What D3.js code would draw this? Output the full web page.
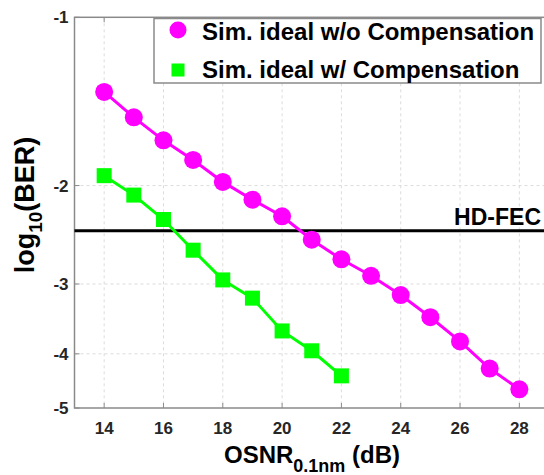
<!DOCTYPE html>
<html>
<head>
<meta charset="utf-8">
<script src="https://cdn.jsdelivr.net/npm/d3@7"></script>
<style>
body { margin: 0; background: #fff; }
text { font-family: "Liberation Sans", Arial, sans-serif; font-weight: bold; }
</style>
</head>
<body>
<svg width="544" height="475"></svg>
<script>
// data: log10(BER) vs OSNR
var osnrNoComp = [14, 15, 16, 17, 18, 19, 20, 21, 22, 23, 24, 25, 26, 27, 28];
var berNoComp = [-1.36, -1.51, -1.66, -1.80, -1.97, -2.12, -2.27, -2.50, -2.71, -2.90, -3.14, -3.44, -3.80, -4.25, -4.63];
var osnrComp = [14, 15, 16, 17, 18, 19, 20, 21, 22];
var berComp = [-1.92, -2.08, -2.30, -2.61, -2.95, -3.18, -3.64, -3.95, -4.38];
var xTicks = [14, 16, 18, 20, 22, 24, 26, 28];
var yTicks = [-1, -2, -3, -4, -5];
var hdFec = -2.41;
var legendLabels = ["Sim. ideal w/o Compensation", "Sim. ideal w/ Compensation"];

var magenta = "#ff00ff", green = "#00ff00";

var svg = d3.select("svg");
var pLeft = 74.5, pTop = 17.3, pRight = 549, pBottom = 408;

var xScale = d3.scaleLinear().domain([13, 29]).range([pLeft, pRight]);
// axis is log scale on -log10(BER)
var yLog = d3.scaleLog().domain([1, 5]).range([pTop, pBottom]);
var yScale = function(v) { return yLog(-v); };

// grid
svg.append("g").selectAll("line")
    .data(xTicks).enter().append("line")
    .attr("x1", function(d) { return xScale(d); })
    .attr("x2", function(d) { return xScale(d); })
    .attr("y1", pTop).attr("y2", pBottom)
    .style("stroke", "#dcdcdc").style("stroke-dasharray", "3,3").style("stroke-width", 1);
svg.append("g").selectAll("line")
    .data(yTicks.slice(1, 4)).enter().append("line")
    .attr("x1", pLeft).attr("x2", pRight)
    .attr("y1", function(d) { return yScale(d); })
    .attr("y2", function(d) { return yScale(d); })
    .style("stroke", "#dcdcdc").style("stroke-dasharray", "3,3").style("stroke-width", 1);

// frame
svg.append("rect")
    .attr("x", pLeft).attr("y", pTop)
    .attr("width", pRight - pLeft).attr("height", pBottom - pTop)
    .style("fill", "none").style("stroke", "#8a8a8a").style("stroke-width", 1.5);

// ticks inward
xTicks.forEach(function(t) {
    svg.append("line").attr("x1", xScale(t)).attr("x2", xScale(t))
        .attr("y1", pBottom).attr("y2", pBottom - 5).style("stroke", "#8a8a8a");
    svg.append("line").attr("x1", xScale(t)).attr("x2", xScale(t))
        .attr("y1", pTop).attr("y2", pTop + 5).style("stroke", "#8a8a8a");
});
yTicks.forEach(function(t) {
    svg.append("line").attr("x1", pLeft).attr("x2", pLeft + 5)
        .attr("y1", yScale(t)).attr("y2", yScale(t)).style("stroke", "#8a8a8a");
});

// tick labels
svg.append("g").selectAll("text")
    .data(xTicks).enter().append("text")
    .attr("x", function(d) { return xScale(d); })
    .attr("y", pBottom + 26)
    .attr("text-anchor", "middle")
    .style("font-size", "17px").style("fill", "#262626")
    .text(function(d) { return d; });
svg.append("g").selectAll("text")
    .data(yTicks).enter().append("text")
    .attr("x", pLeft - 6)
    .attr("y", function(d) { return yScale(d) + 6; })
    .attr("text-anchor", "end")
    .style("font-size", "17px").style("fill", "#262626")
    .text(function(d) { return d; });

// axis labels
var xl = svg.append("text")
    .attr("x", 312).attr("y", 463)
    .attr("text-anchor", "middle")
    .style("font-size", "24px").style("fill", "#000");
xl.append("tspan").text("OSNR");
xl.append("tspan").attr("dy", 9).style("font-size", "18px").text("0.1nm");
xl.append("tspan").attr("dy", -9).text(" (dB)");

var yl = svg.append("text")
    .attr("transform", "translate(34,205)rotate(-90)")
    .attr("text-anchor", "middle")
    .style("font-size", "27px").style("fill", "#000");
yl.append("tspan").text("log");
yl.append("tspan").attr("dy", 8).style("font-size", "19px").text("10");
yl.append("tspan").attr("dy", -8).text("(BER)");

// HD-FEC threshold
svg.append("line")
    .attr("x1", pLeft).attr("x2", pRight)
    .attr("y1", yScale(hdFec)).attr("y2", yScale(hdFec))
    .style("stroke", "#000").style("stroke-width", 3);
svg.append("text")
    .attr("x", 541).attr("y", yScale(hdFec) - 6)
    .attr("text-anchor", "end")
    .style("font-size", "23px").style("fill", "#000")
    .text("HD-FEC");

var line = d3.line()
    .x(function(d) { return xScale(d[0]); })
    .y(function(d) { return yScale(d[1]); });

var dNo = d3.zip(osnrNoComp, berNoComp);
var dYes = d3.zip(osnrComp, berComp);

svg.append("path").datum(dNo).attr("d", line)
    .style("fill", "none").style("stroke", magenta).style("stroke-width", 3);
svg.append("g").selectAll("circle")
    .data(dNo).enter().append("circle")
    .attr("cx", function(d) { return xScale(d[0]); })
    .attr("cy", function(d) { return yScale(d[1]); })
    .attr("r", 9)
    .style("fill", magenta);

svg.append("path").datum(dYes).attr("d", line)
    .style("fill", "none").style("stroke", green).style("stroke-width", 3);
svg.append("g").selectAll("rect")
    .data(dYes).enter().append("rect")
    .attr("x", function(d) { return xScale(d[0]) - 7.5; })
    .attr("y", function(d) { return yScale(d[1]) - 7.5; })
    .attr("width", 15).attr("height", 15)
    .style("fill", green);

// legend
var lg = svg.append("g");
lg.append("rect")
    .attr("x", 154).attr("y", 18.5).attr("width", 387).attr("height", 64.5)
    .style("fill", "#fff").style("stroke", "#8a8a8a").style("stroke-width", 1.5);
lg.append("circle").attr("cx", 178).attr("cy", 30).attr("r", 8.5).style("fill", magenta);
lg.append("rect").attr("x", 171.5).attr("y", 63.5).attr("width", 13).attr("height", 13).style("fill", green);
lg.selectAll("text")
    .data(legendLabels).enter().append("text")
    .attr("x", 202)
    .attr("y", function(d, i) { return 40 + i * 38; })
    .style("font-size", "24px").style("fill", "#000")
    .text(function(d) { return d; });
</script>
</body>
</html>
